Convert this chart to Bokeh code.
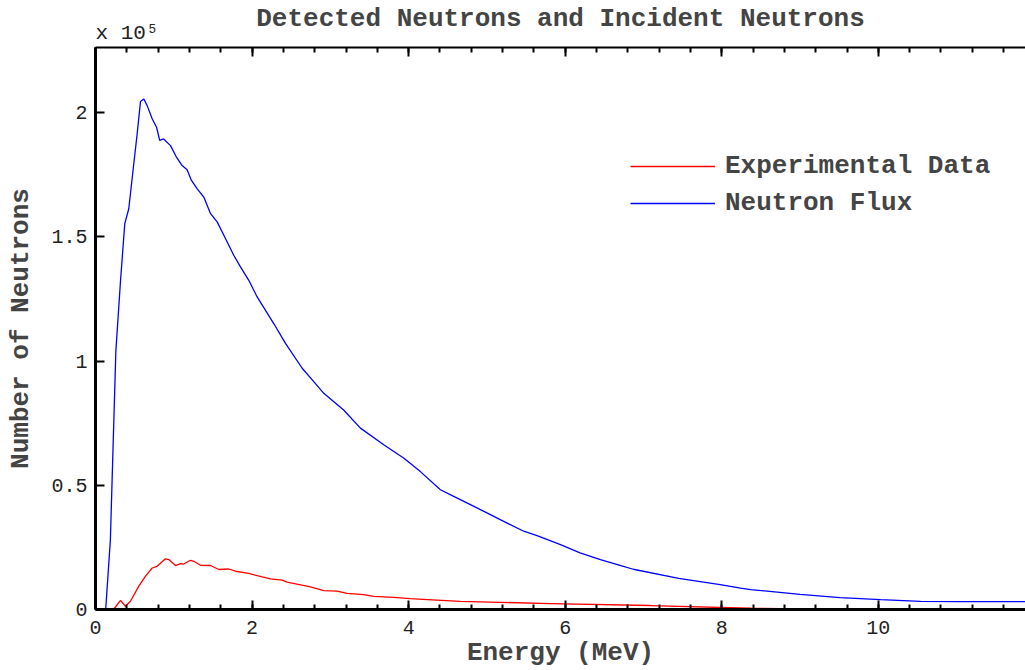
from bokeh.plotting import figure
from bokeh.models import (Range1d, LinearAxis, SingleIntervalTicker, FixedTicker,
                          CustomJSTickFormatter, Legend, LegendItem, Title)
from bokeh.embed import file_html
from bokeh.resources import INLINE

# ---- data (values in units of 1e5 neutrons) ----
flux_energy = [0.08, 0.13, 0.19, 0.26, 0.32, 0.374, 0.425, 0.489, 0.532, 0.575, 0.617,
               0.66, 0.724, 0.78, 0.82, 0.87, 0.958, 1.03, 1.107, 1.17, 1.226, 1.30,
               1.383, 1.47, 1.554, 1.66, 1.766, 1.85, 1.958, 2.065, 2.277, 2.427, 2.64,
               2.788, 2.916, 3.17, 3.384, 3.682, 3.94, 4.15, 4.406, 4.576, 4.789, 5.045,
               5.17, 5.47, 5.64, 5.94, 6.19, 6.45, 6.70, 6.87, 7.45, 7.98, 8.24, 8.37,
               9.0, 9.51, 10.03, 10.54, 11.05, 11.88]
flux_counts = [0.0, 0.0, 0.28, 1.04, 1.325, 1.553, 1.613, 1.794, 1.914, 2.045, 2.055,
               2.028, 1.975, 1.941, 1.888, 1.894, 1.867, 1.823, 1.787, 1.77, 1.727, 1.693,
               1.66, 1.593, 1.56, 1.493, 1.426, 1.38, 1.325, 1.258, 1.151, 1.071, 0.971,
               0.917, 0.870, 0.803, 0.730, 0.663, 0.609, 0.555, 0.482, 0.455, 0.422, 0.382,
               0.362, 0.315, 0.297, 0.261, 0.228, 0.201, 0.178, 0.162, 0.125, 0.100, 0.086,
               0.080, 0.061, 0.048, 0.040, 0.033, 0.032, 0.032]

exp_energy = [0.08, 0.23, 0.32, 0.383, 0.447, 0.553, 0.639, 0.724, 0.787, 0.894, 0.937,
              1.022, 1.086, 1.128, 1.213, 1.256, 1.341, 1.47, 1.575, 1.70, 1.79, 1.958,
              2.13, 2.235, 2.384, 2.448, 2.746, 2.916, 3.086, 3.214, 3.427, 3.555, 3.81,
              4.02, 4.24, 4.66, 5.81, 7.09, 8.37, 9.0, 10.0, 11.88]
exp_counts = [0.0, 0.0, 0.037, 0.013, 0.033, 0.094, 0.134, 0.167, 0.174, 0.204, 0.201,
              0.177, 0.185, 0.183, 0.198, 0.194, 0.178, 0.177, 0.161, 0.163, 0.154, 0.145,
              0.131, 0.123, 0.118, 0.110, 0.091, 0.076, 0.074, 0.065, 0.060, 0.053, 0.049,
              0.044, 0.040, 0.033, 0.024, 0.016, 0.005, 0.002, 0.001, 0.0]

x_major_interval = 2
y_major_ticks = [0, 0.5, 1, 1.5, 2]

FONT = "Liberation Mono"

p = figure(width=1025, height=670, output_backend="svg", toolbar_location=None,
           x_range=Range1d(0, 11.88), y_range=Range1d(0, 2.262),
           min_border_left=95, min_border_right=0, min_border_top=47, min_border_bottom=60,
           background_fill_color="white", border_fill_color="white")
p.grid.visible = False
p.outline_line_color = None
p.title.visible = False

def style_axis(ax):
    ax.axis_line_width = 3
    ax.axis_line_color = "black"
    ax.major_tick_out = 0
    ax.major_tick_in = 9
    ax.minor_tick_out = 0
    ax.minor_tick_in = 5
    ax.major_tick_line_width = 2
    ax.minor_tick_line_width = 2
    ax.major_label_text_font = FONT
    ax.major_label_text_font_size = "20px"
    ax.major_label_text_color = "#222222"

xa = p.xaxis[0]
xa.ticker = SingleIntervalTicker(interval=x_major_interval, num_minor_ticks=5)
style_axis(xa)
xa.major_label_standoff = 11
xa.axis_label = "Energy (MeV)"
xa.axis_label_text_font = FONT
xa.axis_label_text_font_style = "bold"
xa.axis_label_text_font_size = "26px"
xa.axis_label_standoff = 1

ya = p.yaxis[0]
ya.ticker = FixedTicker(ticks=y_major_ticks)
ya.formatter = CustomJSTickFormatter(code="return tick.toString();")
style_axis(ya)
ya.major_label_standoff = 8
ya.axis_label = "Number of Neutrons"
ya.axis_label_text_font = FONT
ya.axis_label_text_font_style = "bold"
ya.axis_label_text_font_size = "26px"
ya.axis_label_standoff = 12

top = LinearAxis(ticker=SingleIntervalTicker(interval=x_major_interval, num_minor_ticks=5),
                 formatter=CustomJSTickFormatter(code="return '';"))
style_axis(top)
top.axis_line_width = 2
top.major_label_standoff = 0
p.add_layout(top, "above")

exp_title = Title(text="x 10\u2075", align="left", text_font=FONT, text_font_style="normal",
                  text_font_size="21px", text_color="#222222", standoff=5)
p.add_layout(exp_title, "above")
main_title = Title(text="Detected Neutrons and Incident Neutrons", align="center",
                   text_font=FONT, text_font_style="bold", text_font_size="26px",
                   standoff=-33)
p.add_layout(main_title, "above")

r_exp = p.line(exp_energy, exp_counts, line_color="red", line_width=1.3)
r_flux = p.line(flux_energy, flux_counts, line_color="blue", line_width=1.3)

legend = Legend(items=[LegendItem(label="Experimental Data", renderers=[r_exp]),
                       LegendItem(label="Neutron Flux", renderers=[r_flux])],
                location=(535, 391), border_line_color=None, background_fill_alpha=0,
                padding=0, margin=0, spacing=7, glyph_width=85, glyph_height=30,
                label_height=30, label_standoff=10,
                label_text_font=FONT, label_text_font_style="bold",
                label_text_font_size="26px")
p.add_layout(legend, "center")

open("out.html", "w").write(file_html(p, INLINE))
